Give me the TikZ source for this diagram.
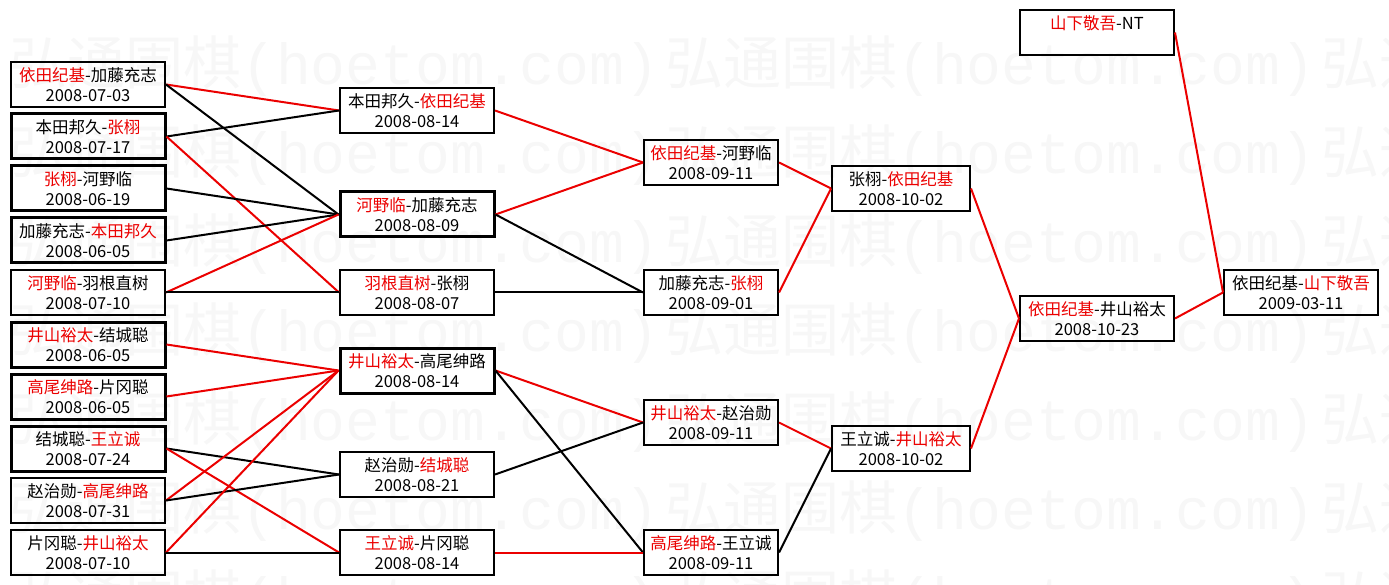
\documentclass[tikz,border=0pt]{standalone}
\usepackage{fontspec}
\setmainfont{Noto Sans CJK SC}
\newfontfamily\wmono{Liberation Mono}
\usepackage{tikz}
\colorlet{winred}{red!92!black}
\colorlet{wmark}{black!3}
\newcommand{\wname}[1]{\textcolor{winred}{#1}}

\begin{document}
\begin{tikzpicture}[x=1pt,y=-1pt,
  game/.style={draw, line width=2pt, minimum height=45pt, inner sep=0pt,
    align=center, font=\fontsize{16.5}{20.5}\selectfont},
  heavy/.style={line width=3pt},
  wide/.style={minimum width=154pt},
  mid/.style={minimum width=134pt},
  won/.style={draw=winred, line width=2pt},
  lost/.style={draw=black, line width=2pt},
  wtext/.style={anchor=west, inner sep=0pt, text=wmark, font=\fontsize{58}{58}\selectfont}]
\useasboundingbox (0,0) rectangle (1389,585);
\begin{scope}
\clip (0,0) rectangle (1389,585);
\foreach \wy in {66,155,244,333,422,511,600}
  \foreach \wx in {9,665,1321}
    \node[wtext] (w-\wx-\wy) at (\wx,\wy) {弘通围棋{\wmono(hoetom.com)}};
\end{scope}
% first round
\node[game, wide] (a1) at (88,84.5) {\wname{依田纪基}-加藤充志\\2008-07-03};
\node[game, wide, heavy] (a2) at (88,136.5) {本田邦久-\wname{张栩}\\2008-07-17};
\node[game, wide, heavy] (a3) at (88,188.5) {\wname{张栩}-河野临\\2008-06-19};
\node[game, wide, heavy] (a4) at (88,240.5) {加藤充志-\wname{本田邦久}\\2008-06-05};
\node[game, wide] (a5) at (88,292.5) {\wname{河野临}-羽根直树\\2008-07-10};
\node[game, wide, heavy] (a6) at (88,344.5) {\wname{井山裕太}-结城聪\\2008-06-05};
\node[game, wide, heavy] (a7) at (88,396.5) {\wname{高尾绅路}-片冈聪\\2008-06-05};
\node[game, wide, heavy] (a8) at (88,448.5) {结城聪-\wname{王立诚}\\2008-07-24};
\node[game, wide] (a9) at (88,500.5) {赵治勋-\wname{高尾绅路}\\2008-07-31};
\node[game, wide] (a10) at (88,552.5) {片冈聪-\wname{井山裕太}\\2008-07-10};
% second round
\node[game, wide] (b1) at (417,110.5) {本田邦久-\wname{依田纪基}\\2008-08-14};
\node[game, wide, heavy] (b2) at (417,214.5) {\wname{河野临}-加藤充志\\2008-08-09};
\node[game, wide] (b3) at (417,292.5) {\wname{羽根直树}-张栩\\2008-08-07};
\node[game, wide, heavy] (b4) at (417,370.5) {\wname{井山裕太}-高尾绅路\\2008-08-14};
\node[game, wide] (b5) at (417,474.5) {赵治勋-\wname{结城聪}\\2008-08-21};
\node[game, wide] (b6) at (417,552.5) {\wname{王立诚}-片冈聪\\2008-08-14};
% third round
\node[game, mid] (c1) at (711,162.5) {\wname{依田纪基}-河野临\\2008-09-11};
\node[game, mid] (c2) at (711,292.5) {加藤充志-\wname{张栩}\\2008-09-01};
\node[game, mid] (c3) at (711,422.5) {\wname{井山裕太}-赵治勋\\2008-09-11};
\node[game, mid] (c4) at (711,552.5) {\wname{高尾绅路}-王立诚\\2008-09-11};
% semi and final
\node[game, minimum width=138pt] (d1) at (901,188.5) {张栩-\wname{依田纪基}\\2008-10-02};
\node[game, minimum width=138pt] (d2) at (901,448.5) {王立诚-\wname{井山裕太}\\2008-10-02};
\node[game, wide] (e1) at (1097,318.5) {\wname{依田纪基}-井山裕太\\2008-10-23};
\node[game, wide] (nt) at (1097,32.5) {\wname{山下敬吾}-NT\\\phantom{0}};
\node[game, wide] (f1) at (1301,292.5) {依田纪基-\wname{山下敬吾}\\2009-03-11};

\draw[won] (a1.east) -- (b1.west);
\draw[lost] (a1.east) -- (b2.west);
\draw[lost] (a2.east) -- (b1.west);
\draw[won] (a2.east) -- (b3.west);
\draw[lost] (a3.east) -- (b2.west);
\draw[lost] (a4.east) -- (b2.west);
\draw[won] (a5.east) -- (b2.west);
\draw[lost] (a5.east) -- (b3.west);
\draw[won] (a6.east) -- (b4.west);
\draw[won] (a7.east) -- (b4.west);
\draw[lost] (a8.east) -- (b5.west);
\draw[won] (a8.east) -- (b6.west);
\draw[won] (a9.east) -- (b4.west);
\draw[lost] (a9.east) -- (b5.west);
\draw[won] (a10.east) -- (b4.west);
\draw[lost] (a10.east) -- (b6.west);

\draw[won] (b1.east) -- (c1.west);
\draw[won] (b2.east) -- (c1.west);
\draw[lost] (b2.east) -- (c2.west);
\draw[lost] (b3.east) -- (c2.west);
\draw[won] (b4.east) -- (c3.west);
\draw[lost] (b4.east) -- (c4.west);
\draw[lost] (b5.east) -- (c3.west);
\draw[won] (b6.east) -- (c4.west);

\draw[won] (c1.east) -- (d1.west);
\draw[won] (c2.east) -- (d1.west);
\draw[won] (c3.east) -- (d2.west);
\draw[lost] (c4.east) -- (d2.west);
\draw[won] (d1.east) -- (e1.west);
\draw[won] (d2.east) -- (e1.west);
\draw[won] (e1.east) -- (f1.west);
\draw[won] (nt.east) -- (f1.west);
\end{tikzpicture}
\end{document}
